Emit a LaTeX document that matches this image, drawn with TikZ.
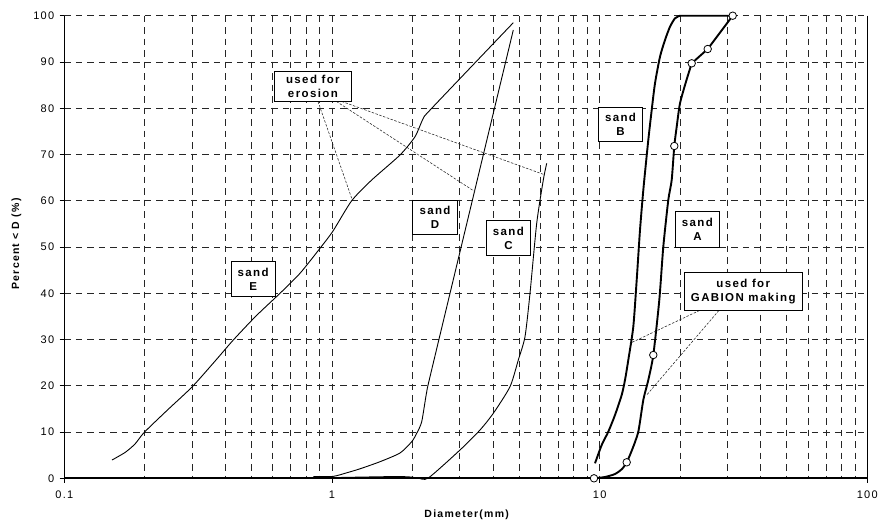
\documentclass[tikz,border=0pt]{standalone}
\usepackage{fontspec}
\setmainfont{Liberation Sans}[LetterSpace=12]
\begin{document}
\begin{tikzpicture}[x=1pt,y=-1pt,
  gridline/.style={black!85, line width=0.8pt, dash pattern=on 6.5pt off 5pt},
  thincurve/.style={black, line width=0.9pt},
  thickcurve/.style={black, line width=1.9pt, line join=round},
  lbl/.style={draw=black, fill=white, line width=0.8pt, inner sep=0pt, align=center,
    font=\bfseries\fontsize{11.5}{14}\selectfont},
  leader/.style={black!85, line width=0.55pt, dash pattern=on 2.5pt off 1.5pt},
  mk/.style={circle, draw=black, fill=white, line width=0.8pt, minimum size=7.5pt, inner sep=0pt},
  ticklbl/.style={font=\fontsize{11}{13}\selectfont, inner sep=0pt},
  axislbl/.style={font=\bfseries\fontsize{10.5}{12}\selectfont, inner sep=0pt}]
\useasboundingbox[fill=white] (0,0) rectangle (884,528);
% ---- grid ----
\foreach \p in {10,20,...,100}{
  \pgfmathsetmacro\gy{478.3-4.626*\p}
  \draw[gridline] (64.3,\gy) -- (867.3,\gy);
}
\foreach \k in {0,1,2}{
  \foreach \m in {2,...,9}{
    \pgfmathsetmacro\gx{64.3+267.7*(\k+log10(\m))}
    \draw[gridline] (\gx,15.7) -- (\gx,478.3);
  }
}
\foreach \gx in {332,599.7}{
  \draw[gridline] (\gx,15.7) -- (\gx,478.3);
}
% ---- axes ----
\draw[black, line width=0.9pt] (867.3,15.7) -- (867.3,478.3);
\draw[black, line width=1.2pt] (64.3,15.7) -- (64.3,478.3);
\draw[black, line width=2pt] (64.3,478.3) -- (867.3,478.3);
\foreach \p in {0,10,...,100}{
  \pgfmathsetmacro\gy{478.3-4.626*\p}
  \draw[black, line width=0.8pt] (59.5,\gy) -- (64.3,\gy);
  \node[ticklbl, anchor=east] (yl\p) at (54.5,\gy) {\p};
}
\foreach \gx in {64.3,332,599.7,867.3}{
  \draw[black, line width=0.8pt] (\gx,478.3) -- (\gx,483);
}
\node[ticklbl] (xl1) at (64.3,495) {0.1};
\node[ticklbl] (xl2) at (332,495) {1};
\node[ticklbl] (xl3) at (599.7,495) {10};
\node[ticklbl] (xl4) at (867.3,495) {100};
\node[axislbl] (xtitle) at (466.7,515) {Diameter(mm)};
\node[axislbl, rotate=90] (ytitle) at (16.5,244) {Percent < D (\%)};
% ---- curves ----
% sand E
\draw[thincurve] plot[smooth, tension=0.4] coordinates {
 (112,460) (125,452.5) (135,444) (144.3,432.3) (168,409.5) (192.3,386.7) (216,360)
 (233.3,340) (256,316) (280,293.3) (300,273.3) (320,248.3) (333,231)
 (351.7,200.7) (371.7,180) (400,155) (415,136.7) (423.3,118.3) (431.7,108.3) (513.3,22.7)};
% sand D
\draw[thincurve] plot[smooth, tension=0.4] coordinates {
 (313.3,476.6) (333,476.4) (346.7,472.8) (360,468.8) (380,461.7) (400,453) (411.7,441.7)
 (416.7,433.3) (421.7,421.7) (426.7,392) (434,360) (513.3,30)};
% sand C
\draw[thincurve] plot[smooth, tension=0.4] coordinates {
 (333,477.6) (390,476.6) (408,476.8) (418,478) (428.3,478)
 (460,450) (480,430) (493.3,413.3) (510,386.7) (518.3,360) (525,336.7)
 (530,293.3) (536.7,223.3) (543.3,180) (546.7,163.3)};
% sand B
\draw[thickcurve] plot[smooth, tension=0.4] coordinates {
 (595,463.3) (601.7,445) (608.3,431.7) (615,415) (621.7,395) (625,380) (628.3,360)
 (633.3,326.7) (636.7,280) (640,230) (643.5,188) (648.3,140) (651.7,110) (655,83.3)
 (660,56.7) (665,40) (670,26.7) (675,18.3) (680,15.7)} -- (731.7,15.7);
% sand A
\draw[thickcurve] plot[smooth, tension=0.4] coordinates {
 (594,478.3) (605,477) (615,474) (622,469) (626.7,462.3) (632,450) (638.3,431.7)
 (643.3,400) (648.3,380) (653.3,355) (659.3,300) (663.3,246.7) (668.3,200) (671.7,180)
 (674.3,146) (676.7,126.7) (680,103.3) (686,81.7) (691.7,63.3)}
 -- (707.7,49) -- (732.7,15.7);
% ---- labels ----
\node[lbl, minimum width=77.7pt, minimum height=30pt] (eros) at (312.9,86) {used for\\erosion};
\node[lbl, minimum width=118pt, minimum height=37.7pt] (gab) at (743.3,291.2) {used for\\GABION making};
\coordinate (eE) at (351.7,198.3);
\coordinate (eD) at (475,191.7);
\coordinate (eC) at (543.3,174.3);
\coordinate (gB) at (630,343.3);
\coordinate (gA) at (646.7,395);
\draw[leader] (eros.south west) ++(44.3,0) coordinate (es1) -- (eE);
\draw[leader] (eros.south west) ++(62.7,0) coordinate (es2) -- (eD);
\draw[leader] (eros.south west) ++(68,0) coordinate (es3) -- (eC);
\draw[leader] (gab.south west) ++(15.7,0) coordinate (gs1) -- (gB);
\draw[leader] (gab.south west) ++(35,0) coordinate (gs2) -- (gA);
\node[lbl, minimum width=77.7pt, minimum height=30pt] at (eros) {used for\\erosion};
\node[lbl, minimum width=118pt, minimum height=37.7pt] at (gab) {used for\\GABION making};
\node[lbl, minimum width=44.4pt, minimum height=34.4pt] (sB) at (620.5,124.5) {sand\\B};
\node[lbl, minimum width=43.3pt, minimum height=35.6pt] (sA) at (697.4,229.5) {sand\\A};
\node[lbl, minimum width=44.6pt, minimum height=34.3pt] (sD) at (435,217.2) {sand\\D};
\node[lbl, minimum width=43.3pt, minimum height=34.3pt] (sC) at (508.4,237.9) {sand\\C};
\node[lbl, minimum width=44.3pt, minimum height=34.3pt] (sE) at (253.2,278.9) {sand\\E};
% ---- markers on sand A ----
\node[mk] (m1) at (594,478.3) {};
\node[mk] (m2) at (626.7,462.3) {};
\node[mk] (m3) at (653.3,355) {};
\node[mk] (m4) at (674.3,146) {};
\node[mk] (m5) at (691.7,63.3) {};
\node[mk] (m6) at (707.7,49) {};
\node[mk] (m7) at (732.7,15.7) {};
\end{tikzpicture}
\end{document}
